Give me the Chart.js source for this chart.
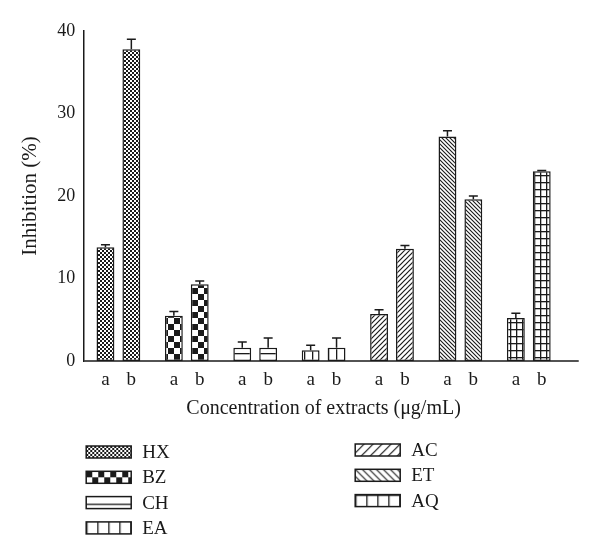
<!DOCTYPE html>
<html>
<head>
<meta charset="utf-8">
<script src="https://cdn.jsdelivr.net/npm/chart.js@4"></script>
<style>
  html, body { margin: 0; padding: 0; background: #fff; }
  #wrap { width: 600px; height: 560px; position: relative; }
</style>
</head>
<body>
<div id="wrap"><canvas id="c" width="600" height="560"></canvas></div>
<script>
// ---- data ----
const groups = ['HX', 'BZ', 'CH', 'EA', 'AC', 'ET', 'AQ'];
const concLabels = ['a', 'b'];
const valuesA = [13.8, 5.5, 1.6, 1.3, 5.7, 27.2, 5.2];
const valuesB = [37.8, 9.3, 1.6, 1.6, 13.6, 19.6, 23.0];
const errorsA = [0.3, 0.5, 0.7, 0.6, 0.5, 0.7, 0.6];
const errorsB = [1.2, 0.4, 1.2, 1.2, 0.4, 0.4, 0.1];
const yTicks = [0, 10, 20, 30, 40];
const xTitle = 'Concentration of extracts (\u03bcg/mL)';
const yTitle = 'Inhibition (%)';
const patternKinds = ['hx', 'bz', 'ch', 'ea', 'ac', 'et', 'aq'];

const INK = '#1a1a1a';
const FONT = "'Liberation Serif', 'DejaVu Serif', serif";

function makeTile(kind, k) {
  const c = document.createElement('canvas');
  let w, h;
  switch (kind) {
    case 'hx': w = 4; h = 4; break;
    case 'bz': w = 12; h = 12; break;
    case 'ch': w = 6; h = 7 * k; break;
    case 'ea': w = 8 * k; h = 6; break;
    case 'ac': w = 5 * k; h = 5 * k; break;
    case 'et': w = 4 * k; h = 4 * k; break;
    case 'aq': w = 6 * k; h = 6.5 * k; break;
  }
  w = Math.round(w); h = Math.round(h);
  c.width = w; c.height = h;
  const ctx = c.getContext('2d');
  ctx.fillStyle = '#fff';
  ctx.fillRect(0, 0, w, h);
  ctx.fillStyle = INK;
  ctx.strokeStyle = INK;
  if (kind === 'hx') {
    ctx.fillRect(0, 0, 2, 2); ctx.fillRect(2, 2, 2, 2);
  } else if (kind === 'bz') {
    ctx.fillRect(0, 0, 6, 6); ctx.fillRect(6, 6, 6, 6);
  } else if (kind === 'ch') {
    ctx.fillRect(0, Math.floor(h / 2), w, 1.3);
  } else if (kind === 'ea') {
    ctx.fillRect(0, 0, 1.3, h);
  } else if (kind === 'aq') {
    ctx.fillRect(0, 0, 1.3, h); ctx.fillRect(0, 0, w, 1.3);
  } else if (kind === 'ac') {
    ctx.lineWidth = 1.2;
    ctx.beginPath();
    ctx.moveTo(-1, h + 1); ctx.lineTo(w + 1, -1);
    ctx.moveTo(-1, 1); ctx.lineTo(1, -1);
    ctx.moveTo(w - 1, h + 1); ctx.lineTo(w + 1, h - 1);
    ctx.stroke();
  } else if (kind === 'et') {
    ctx.lineWidth = 1.1;
    ctx.beginPath();
    ctx.moveTo(-1, -1); ctx.lineTo(w + 1, h + 1);
    ctx.moveTo(w - 1, -1); ctx.lineTo(w + 1, 1);
    ctx.moveTo(-1, h - 1); ctx.lineTo(1, h + 1);
    ctx.stroke();
  }
  return c;
}

const mainCanvas = document.getElementById('c');
const mctx = mainCanvas.getContext('2d');
const barPatterns = patternKinds.map(k => mctx.createPattern(makeTile(k, 1), 'repeat'));
const legendScale = { hx: 1, bz: 1, ch: 2, ea: 1.4, ac: 1.8, et: 1.7, aq: 1.8 };
const legendPatterns = patternKinds.map(k => mctx.createPattern(makeTile(k, legendScale[k]), 'repeat'));

const errorSets = [errorsA, errorsB];

const decorPlugin = {
  id: 'decor',
  afterDatasetsDraw(chart) {
    const { ctx, chartArea, scales } = chart;
    const y = scales.y;
    ctx.save();
    // x axis baseline (extends slightly beyond last category)
    const catW = (chartArea.right - chartArea.left) / groups.length;
    ctx.strokeStyle = INK;
    ctx.lineWidth = 1.5;
    ctx.beginPath();
    ctx.moveTo(chartArea.left, y.getPixelForValue(0));
    ctx.lineTo(chartArea.right + catW * 0.23, y.getPixelForValue(0));
    ctx.stroke();

    // error bars + a/b labels
    ctx.font = '19px ' + FONT;
    ctx.fillStyle = INK;
    ctx.textAlign = 'center';
    ctx.textBaseline = 'middle';
    chart.data.datasets.forEach((ds, di) => {
      const meta = chart.getDatasetMeta(di);
      meta.data.forEach((bar, j) => {
        const v = ds.data[j];
        const e = errorSets[di][j];
        const x = bar.x;
        const yb = y.getPixelForValue(v);
        const yt = y.getPixelForValue(v + e);
        ctx.lineWidth = 1.5;
        ctx.beginPath();
        ctx.moveTo(x, yb);
        ctx.lineTo(x, yt);
        ctx.moveTo(x - 4.5, yt);
        ctx.lineTo(x + 4.5, yt);
        ctx.stroke();
        ctx.fillText(concLabels[di], x, chartArea.bottom + 19);
      });
    });

    // legend: two columns
    const rowH = 25.3;
    const sw = 45, sh = 12;
    groups.forEach((g, i) => {
      const col = i < 4 ? 0 : 1;
      const row = col === 0 ? i : i - 4;
      const sx = chartArea.left + 2 + col * 269;
      const cy = chartArea.bottom + 91 - col * 2 + row * rowH;
      const sy = cy - sh / 2;
      ctx.save();
      ctx.translate(sx, sy);
      ctx.fillStyle = legendPatterns[i];
      ctx.fillRect(0, 0, sw, sh);
      ctx.strokeStyle = INK;
      ctx.lineWidth = 1.5;
      ctx.strokeRect(0, 0, sw, sh);
      ctx.restore();
      ctx.fillStyle = INK;
      ctx.textAlign = 'left';
      ctx.textBaseline = 'middle';
      ctx.font = '19px ' + FONT;
      ctx.fillText(g, sx + sw + 11, cy + 1);
    });
    ctx.restore();
  }
};

Chart.defaults.font.family = FONT;
Chart.defaults.color = INK;

new Chart(mainCanvas, {
  type: 'bar',
  data: {
    labels: groups,
    datasets: [
      { label: concLabels[0], data: valuesA, backgroundColor: barPatterns, borderColor: INK, borderWidth: 1.5, borderSkipped: false },
      { label: concLabels[1], data: valuesB, backgroundColor: barPatterns, borderColor: INK, borderWidth: 1.5, borderSkipped: false }
    ]
  },
  options: {
    responsive: false,
    animation: false,
    events: [],
    categoryPercentage: 0.757,
    barPercentage: 0.69,
    layout: { padding: { left: 14, right: 37, top: 31, bottom: 139 } },
    plugins: {
      legend: { display: false },
      tooltip: { enabled: false }
    },
    scales: {
      x: {
        grid: { display: false, drawTicks: false, tickLength: 0 },
        border: { display: false },
        ticks: { display: false },
        title: { display: true, text: xTitle, font: { size: 20 }, color: INK, padding: { top: 36, bottom: 0 } }
      },
      y: {
        min: yTicks[0],
        max: yTicks[yTicks.length - 1],
        afterBuildTicks: (s) => { s.ticks = yTicks.map(v => ({ value: v })); },
        grid: { display: false, drawTicks: false, tickLength: 0 },
        border: { display: true, color: INK, width: 1.5 },
        ticks: { font: { size: 18 }, color: INK, padding: 9 },
        title: { display: true, text: yTitle, font: { size: 21 }, color: INK, padding: { top: 4, bottom: 5 } }
      }
    }
  },
  plugins: [decorPlugin]
});
</script>
</body>
</html>
